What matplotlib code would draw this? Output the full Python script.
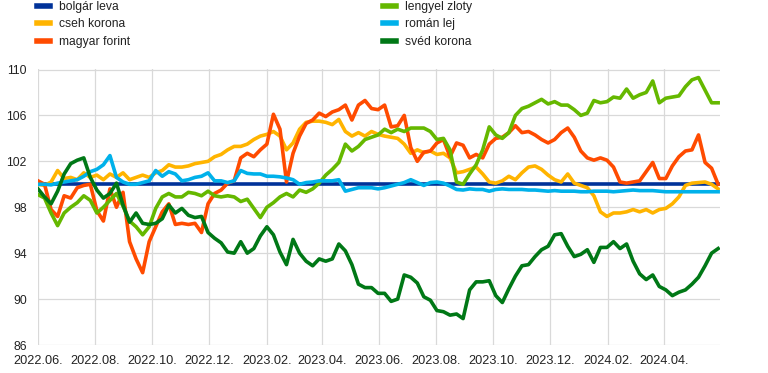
import matplotlib.pyplot as plt
import matplotlib.dates as mdates
import pandas as pd

# Heti értékek (2022.06.01 = 100)
dates = pd.date_range('2022-06-01', periods=105, freq='7D')

bgn = [100.0] * len(dates)

czk = [100.0, 99.9, 100.2, 101.2, 100.5, 100.6, 100.4, 101.0, 100.6, 100.8, 100.4, 100.9, 100.6, 101.0, 100.4, 100.6,
       100.8, 100.6, 101.0, 101.2, 101.7, 101.5, 101.5, 101.6, 101.8, 101.9, 102.0, 102.4, 102.6, 103.0, 103.3,
       103.3, 103.5, 103.9, 104.2, 104.35, 104.6, 104.2, 103.0, 103.6, 104.8, 105.4, 105.5, 105.5, 105.4, 105.2,
       105.65, 104.6, 104.2, 104.5, 104.2, 104.6, 104.35, 104.2, 104.1, 104.0, 103.5, 102.7, 103.0, 102.75, 102.9,
       102.6, 102.7, 102.3, 101.0, 101.1, 101.3, 101.5, 100.9, 100.2, 100.1, 100.3, 100.7, 100.4, 101.0, 101.5,
       101.6, 101.3, 100.8, 100.4, 100.2, 100.9, 100.1, 99.9, 99.7, 99.0, 97.6, 97.2, 97.5, 97.5, 97.6,
       97.8, 97.6, 97.8, 97.5, 97.8, 97.9, 98.3, 98.9, 99.9, 100.1, 100.15, 100.2, 100.0, 99.6]

huf = [100.3, 100.0, 97.8, 97.2, 99.0, 98.8, 99.7, 99.9, 100.0, 97.7, 96.8, 99.6, 98.0, 99.3, 95.0, 93.5,
       92.3, 95.0, 96.3, 97.6, 98.3, 96.5, 96.6, 96.5, 96.6, 95.8, 98.3, 99.2, 99.5, 100.1, 100.3,
       102.3, 102.7, 102.4, 103.0, 103.5, 106.1, 104.8, 100.2, 102.7, 104.2, 105.3, 105.6, 106.2, 105.9, 106.3,
       106.5, 106.9, 105.6, 106.9, 107.3, 106.6, 106.5, 106.9, 105.0, 105.1, 106.0, 103.2, 102.0, 102.8, 102.9,
       103.6, 103.9, 102.4, 103.6, 103.4, 102.3, 102.6, 102.3, 103.5, 104.0, 104.1, 104.5, 105.1, 104.5, 104.6,
       104.3, 103.9, 103.6, 103.9, 104.5, 104.9, 104.1, 102.9, 102.3, 102.1, 102.3, 102.1, 101.5, 100.2, 100.1,
       100.2, 100.3, 101.1, 101.9, 100.5, 100.5, 101.6, 102.4, 102.9, 103.0, 104.3, 101.9, 101.4, 100.0]

pln = [99.1, 98.8, 97.5, 96.4, 97.5, 98.0, 98.4, 99.0, 98.6, 97.5, 98.0, 98.6, 99.2, 98.1, 96.8, 96.3,
       95.6, 96.3, 97.9, 98.9, 99.2, 98.9, 98.9, 99.3, 99.2, 99.0, 99.4, 99.0, 98.9, 99.0, 98.9,
       98.5, 98.7, 97.9, 97.1, 98.0, 98.4, 98.9, 99.2, 98.9, 99.5, 99.3, 99.6, 100.1, 100.8, 101.3,
       101.9, 103.5, 102.9, 103.3, 103.9, 104.1, 104.3, 104.8, 104.5, 104.8, 104.6, 104.9, 104.9, 104.9, 104.6,
       103.9, 104.0, 103.0, 100.2, 100.0, 100.9, 101.7, 103.0, 105.0, 104.3, 104.0, 104.5, 106.0, 106.6, 106.8,
       107.1, 107.4, 107.0, 107.2, 106.9, 106.9, 106.5, 106.0, 106.2, 107.3, 107.1, 107.2, 107.6, 107.5, 108.3,
       107.5, 107.8, 108.0, 109.0, 107.1, 107.5, 107.6, 107.7, 108.5, 109.1, 109.3, 108.2, 107.1, 107.1]

ron = [100.0, 100.0, 99.95, 100.1, 100.2, 100.3, 100.4, 100.7, 101.1, 101.3, 101.7, 102.5, 100.6, 100.2, 100.0, 100.0,
       100.15, 100.3, 101.2, 100.7, 101.1, 100.9, 100.3, 100.4, 100.6, 100.7, 101.0, 100.3, 100.3, 100.15, 100.3,
       101.2, 100.95, 100.9, 100.9, 100.7, 100.7, 100.65, 100.55, 100.4, 100.0, 100.15, 100.2, 100.3, 100.3, 100.3,
       100.4, 99.4, 99.55, 99.7, 99.7, 99.7, 99.6, 99.7, 99.85, 100.0, 100.15, 100.4, 100.15, 99.9, 100.15,
       100.2, 100.1, 99.85, 99.55, 99.5, 99.6, 99.55, 99.55, 99.4, 99.55, 99.6, 99.55, 99.55, 99.55, 99.5,
       99.5, 99.45, 99.4, 99.45, 99.4, 99.4, 99.4, 99.35, 99.35, 99.4, 99.4, 99.4, 99.35, 99.4, 99.45,
       99.5, 99.45, 99.45, 99.45, 99.4, 99.35, 99.35, 99.35, 99.35, 99.35, 99.35, 99.35, 99.35, 99.35]

sek = [99.6, 98.9, 98.3, 99.4, 100.9, 101.8, 102.1, 102.3, 100.6, 99.5, 98.8, 99.2, 100.1, 98.2, 96.7, 97.5,
       96.6, 96.5, 96.6, 97.0, 98.2, 97.5, 97.9, 97.3, 97.1, 97.2, 95.8, 95.3, 94.9, 94.1, 94.0,
       95.0, 94.0, 94.4, 95.5, 96.3, 95.6, 94.1, 93.0, 95.2, 94.0, 93.3, 92.9, 93.5, 93.3, 93.5,
       94.8, 94.2, 93.0, 91.3, 91.0, 91.0, 90.5, 90.5, 89.8, 90.0, 92.1, 91.9, 91.4, 90.2, 89.9,
       89.0, 88.9, 88.6, 88.7, 88.3, 90.8, 91.5, 91.5, 91.6, 90.3, 89.7, 90.9, 92.0, 92.9, 93.0,
       93.7, 94.3, 94.6, 95.6, 95.7, 94.6, 93.7, 93.9, 94.3, 93.2, 94.5, 94.5, 95.0, 94.4, 94.8,
       93.3, 92.2, 91.7, 92.1, 91.1, 90.8, 90.3, 90.6, 90.8, 91.3, 91.9, 92.9, 94.0, 94.4]

labels = ['bolgár leva', 'cseh korona', 'magyar forint', 'lengyel zloty', 'román lej', 'svéd korona']
colors = ['#003299', '#FFB400', '#FF4B00', '#65B800', '#00B1EA', '#007816']
series = [bgn, czk, huf, pln, ron, sek]

fig = plt.figure(figsize=(7.68, 3.73), dpi=100)
ax = fig.add_axes([38 / 768, 1 - 345 / 373, (720 - 38) / 768, (345 - 69.5) / 373])

lines = []
for vals, col, lab in zip(series, colors, labels):
    ln, = ax.plot(dates, vals, color=col, linewidth=2.6, label=lab, solid_joinstyle='round')
    lines.append(ln)

# Tengelyek
ax.set_ylim(86, 110)
ax.set_yticks(range(86, 111, 4))
ax.set_xlim(pd.Timestamp('2022-06-01'), pd.Timestamp('2024-05-31'))
ax.xaxis.set_major_locator(mdates.MonthLocator(bymonth=[2, 4, 6, 8, 10, 12]))
ax.xaxis.set_major_formatter(mdates.DateFormatter('%Y.%m.'))

ax.grid(True, color='#d9d9d9', linewidth=0.9)
ax.set_axisbelow(True)
for s in ax.spines.values():
    s.set_visible(False)
ax.tick_params(axis='both', length=0, colors='#222222')
ax.tick_params(axis='y', pad=8, labelsize=8.7)
ax.tick_params(axis='x', pad=7, labelsize=9.2)
for t in ax.get_yticklabels() + ax.get_xticklabels():
    t.set_family(['Liberation Sans', 'DejaVu Sans'])

# Jelmagyarázat két oszlopban
leg_kw = dict(loc='upper left', frameon=False, borderpad=0, borderaxespad=0,
              handlelength=1.1, handletextpad=0.75, labelspacing=0.45,
              prop={'family': ['Liberation Sans', 'DejaVu Sans'], 'size': 8.7})
leg1 = fig.legend(lines[:3], labels[:3], bbox_to_anchor=(37 / 768, 1 - 1 / 373), **leg_kw)
leg2 = fig.legend(lines[3:], labels[3:], bbox_to_anchor=(383 / 768, 1 - 1 / 373), **leg_kw)
for leg in (leg1, leg2):
    for h in leg.legend_handles:
        h.set_linewidth(4)
    for t in leg.get_texts():
        t.set_color('#222222')

fig.savefig('out.png', dpi=100)
